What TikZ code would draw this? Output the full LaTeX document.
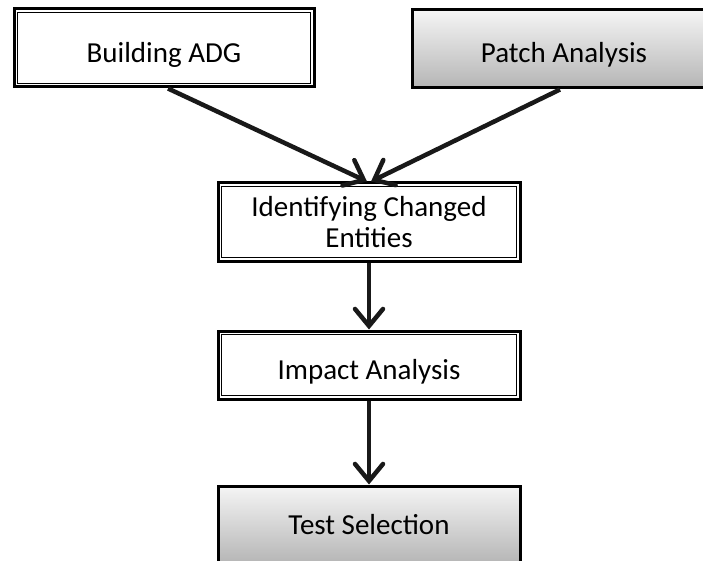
\documentclass[tikz,border=0pt]{standalone}
\usepackage{fontspec}
\setmainfont{Carlito}
\usetikzlibrary{arrows.meta}

\tikzset{
  box/.style={draw=black, line width=3pt, minimum width=302pt, minimum height=78pt,
    inner sep=0pt, align=center, font=\fontsize{29}{31}\selectfont, text=black},
  lowtext/.style={text height=#1, text depth=0pt},
  lowtext/.default=29pt,
  shadedbox/.style={box, top color=gray!8, bottom color=gray!58},
  innerrule/.style={draw=black, line width=1pt},
  flow/.style={draw=black!90, line width=4.5pt,
    -{Straight Barb[length=17pt, width=28pt, line cap=round]}},
}

\begin{document}
\begin{tikzpicture}[x=1pt, y=-1pt]
  \useasboundingbox (0,0) rectangle (703,561);
  \clip (0,0) rectangle (703,561);

  % input stages
  \node[box, lowtext, minimum width=300pt] (ba) at (164,48) {Building ADG};
  \node[shadedbox, lowtext=27pt, minimum width=304pt] (pa) at (564,49) {Patch Analysis};

  % processing chain
  \node[box] (id) at (369,222) {Identifying Changed\\Entities};
  \node[box, lowtext=29pt, minimum height=68pt] (im) at (369,365) {Impact Analysis};
  \node[shadedbox] (ts) at (369,525) {Test Selection};

  % thin inner rule of the double-framed boxes
  \foreach \n in {ba,id,im}
    \draw[innerrule] ([shift={(5pt,-5pt)}]\n.north west) rectangle ([shift={(-5pt,5pt)}]\n.south east);

  % connectors
  \draw[flow] ([xshift=4pt]ba.south) -- ([xshift=-2pt]id.north);
  \draw[flow] ([xshift=-4pt]pa.south) -- ([xshift=2pt]id.north);
  \draw[flow] (id.south) -- (im.north);
  \draw[flow] (im.south) -- (ts.north);
\end{tikzpicture}
\end{document}
